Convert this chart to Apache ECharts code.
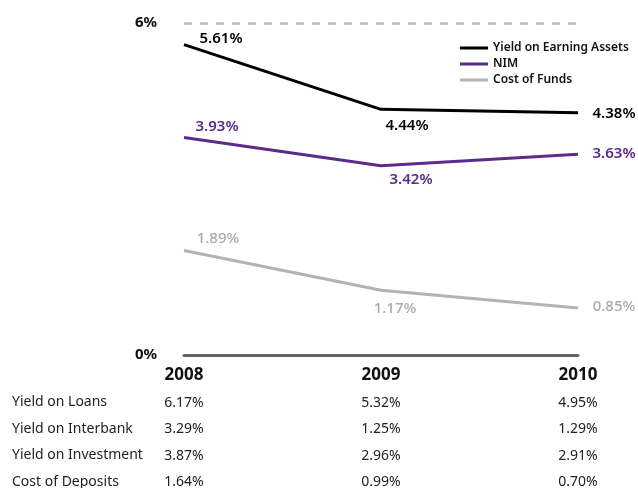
<!DOCTYPE html>
<html>
<head>
<meta charset="utf-8">
<script src="https://cdn.jsdelivr.net/npm/echarts@6/dist/echarts.min.js"></script>
<style>
  html, body { margin: 0; padding: 0; background: #fff; }
  #chart { width: 638px; height: 488px; }
</style>
</head>
<body>
<div id="chart"></div>
<script>
// data
const years = ['2008', '2009', '2010'];
const yieldEarningAssets = [5.61, 4.44, 4.38];
const nim = [3.93, 3.42, 3.63];
const costOfFunds = [1.89, 1.17, 0.85];

const tableRows = ['Yield on Loans', 'Yield on Interbank', 'Yield on Investment', 'Cost of Deposits'];
const yieldOnLoans = ['6.17', '5.32', '4.95'];
const yieldOnInterbank = ['3.29', '1.25', '1.29'];
const yieldOnInvestment = ['3.87', '2.96', '2.91'];
const costOfDeposits = ['1.64', '0.99', '0.70'];
const tableValues = [yieldOnLoans, yieldOnInterbank, yieldOnInvestment, costOfDeposits];

const FONT = '"Noto Sans", sans-serif';

// label offsets per point (layout only)
const offsets = {
  yea: [[37, -6], [26, 16], [36, 1]],
  nim: [[33, -11], [30, 14], [36, 0]],
  cof: [[34, -12], [14, 18], [36, -1]]
};

function withLabels(values, offs, color, weight) {
  return values.map((v, i) => ({
    value: v,
    label: {
      show: true,
      position: 'inside',
      offset: offs[i],
      color: color,
      fontFamily: FONT,
      fontSize: 15,
      fontWeight: weight,
      formatter: p => p.value.toFixed(2) + '%'
    }
  }));
}

const chart = echarts.init(document.getElementById('chart'), null, { renderer: 'canvas' });

const lineSeries = (name, values, offs, color, labelColor, weight) => ({
  name,
  type: 'line',
  data: withLabels(values, offs, labelColor, weight),
  symbol: 'circle',
  symbolSize: 0,
  showSymbol: true,
  itemStyle: { color },
  lineStyle: { color, width: 3 },
  emphasis: { disabled: true },
  animation: false
});

chart.setOption({
  animation: false,
  grid: { left: 184, right: 60, top: 23, bottom: 133, outerBoundsMode: 'none', containLabel: false },
  legend: {
    orient: 'vertical',
    left: 455,
    top: 37,
    itemWidth: 28,
    itemHeight: 3,
    itemGap: 4,
    icon: 'rect',
    textStyle: { fontFamily: FONT, fontSize: 12, fontWeight: 600, color: '#111' },
    data: ['Yield on Earning Assets', 'NIM', 'Cost of Funds']
  },
  xAxis: {
    type: 'category',
    data: years,
    boundaryGap: false,
    axisLine: { lineStyle: { color: '#666', width: 3 } },
    axisTick: { show: false },
    axisLabel: {
      margin: 6,
      interval: 0,
      formatter: (value, idx) => {
        let s = '{yr|' + value + '}';
        tableValues.forEach(row => { s += '\n{v|' + row[idx] + '%}'; });
        return s;
      },
      rich: {
        yr: { fontFamily: FONT, fontSize: 17, fontWeight: 700, color: '#111', lineHeight: 29 },
        v: { fontFamily: FONT, fontSize: 14, color: '#222', lineHeight: 26.3 }
      }
    }
  },
  yAxis: {
    type: 'value',
    min: 0,
    max: 6,
    interval: 6,
    axisLine: { show: false },
    axisTick: { show: false },
    axisLabel: {
      margin: 27,
      formatter: '{value}%',
      fontFamily: FONT,
      fontSize: 15,
      fontWeight: 700,
      color: '#111'
    },
    splitLine: { lineStyle: { color: '#bbb', width: 2.5, type: [8, 8] } }
  },
  graphic: [{
    type: 'text',
    left: 12,
    top: 389,
    style: {
      text: tableRows.join('\n'),
      fontFamily: FONT,
      fontSize: 14,
      lineHeight: 26.5,
      fill: '#222'
    }
  }],
  series: [
    lineSeries('Yield on Earning Assets', yieldEarningAssets, offsets.yea, '#000', '#000', 600),
    lineSeries('NIM', nim, offsets.nim, '#5a2b8a', '#5a2b8a', 600),
    lineSeries('Cost of Funds', costOfFunds, offsets.cof, '#b3b3b3', '#aaa', 500)
  ]
});
</script>
</body>
</html>
